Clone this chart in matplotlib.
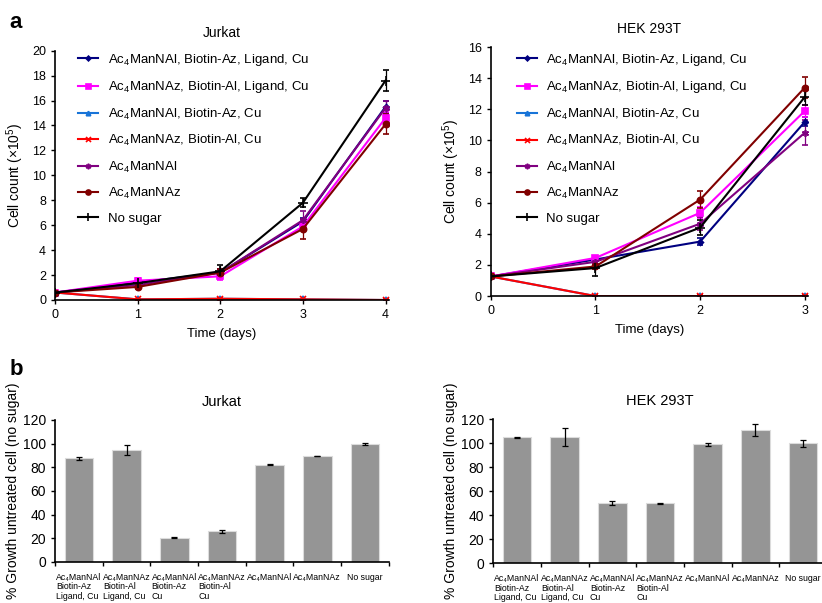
import matplotlib
matplotlib.use("Agg")
import matplotlib.pyplot as plt

plt.rcParams['font.family'] = ['Liberation Sans', 'DejaVu Sans']
plt.rcParams['mathtext.fontset'] = 'custom'
plt.rcParams['mathtext.rm'] = 'Liberation Sans'

# ---- data ----
series_labels = [
    "Ac$_4$ManNAl, Biotin-Az, Ligand, Cu",
    "Ac$_4$ManNAz, Biotin-Al, Ligand, Cu",
    "Ac$_4$ManNAl, Biotin-Az, Cu",
    "Ac$_4$ManNAz, Biotin-Al, Cu",
    "Ac$_4$ManNAl",
    "Ac$_4$ManNAz",
    "No sugar",
]
series_colors = ["#000080", "#FF00FF", "#1874D8", "#FF0000", "#800080", "#800000", "#000000"]
series_markers = ["D", "s", "^", "x", (6, 2, 0), "o", "+"]
series_msize = [3, 4.5, 4, 4.5, 5, 4.5, 7]

jurkat_days = [0, 1, 2, 3, 4]
jurkat_vals = [
    [0.6, 1.4, 2.2, 6.3, 15.5],
    [0.6, 1.55, 1.9, 5.9, 14.6],
    [0.6, 0.05, 0.1, 0.05, 0.0],
    [0.6, 0.05, 0.1, 0.05, 0.0],
    [0.6, 1.2, 2.2, 6.4, 15.4],
    [0.6, 1.05, 2.2, 5.7, 14.1],
    [0.6, 1.35, 2.3, 7.8, 17.6],
]
jurkat_err = [
    [0.05, 0.2, 0.3, 0.3, 0.5],
    [0.05, 0.2, 0.3, 0.3, 0.5],
    [0.05, 0.05, 0.05, 0.05, 0.05],
    [0.05, 0.05, 0.05, 0.05, 0.05],
    [0.05, 0.2, 0.3, 0.7, 0.6],
    [0.05, 0.2, 0.3, 0.8, 0.8],
    [0.05, 0.2, 0.5, 0.35, 0.85],
]

hek_days = [0, 1, 2, 3]
hek_vals = [
    [1.26, 2.35, 3.5, 11.2],
    [1.26, 2.45, 5.35, 11.9],
    [1.26, 0.0, 0.0, 0.0],
    [1.26, 0.0, 0.0, 0.0],
    [1.26, 2.2, 4.65, 10.5],
    [1.26, 1.9, 6.2, 13.4],
    [1.26, 1.8, 4.4, 12.8],
]
hek_err = [
    [0.05, 0.15, 0.25, 0.3],
    [0.05, 0.15, 0.35, 0.4],
    [0.05, 0.05, 0.05, 0.05],
    [0.05, 0.05, 0.05, 0.05],
    [0.05, 0.15, 0.4, 0.8],
    [0.05, 0.15, 0.55, 0.7],
    [0.05, 0.5, 0.5, 0.5],
]

bar_labels = [
    "Ac\u2084ManNAl\nBiotin-Az\nLigand, Cu",
    "Ac\u2084ManNAz\nBiotin-Al\nLigand, Cu",
    "Ac\u2084ManNAl\nBiotin-Az\nCu",
    "Ac\u2084ManNAz\nBiotin-Al\nCu",
    "Ac\u2084ManNAl",
    "Ac\u2084ManNAz",
    "No sugar",
]
jurkat_pct = [87.5, 94.5, 20.5, 25.8, 82.2, 89.5, 99.6]
jurkat_pct_err = [1.0, 4.5, 0.5, 1.0, 0.5, 0.3, 1.0]
hek_pct = [104.7, 105.3, 50.0, 49.8, 99.2, 110.8, 99.8]
hek_pct_err = [0.7, 7.5, 1.8, 0.4, 1.3, 5.0, 3.0]


def line_panel(ax, days, vals, errs, title, ymax, legend_xy):
    for i in range(len(vals)):
        ax.errorbar(days, vals[i], yerr=errs[i], color=series_colors[i],
                    marker=series_markers[i], markersize=series_msize[i],
                    markeredgewidth=1.2, linewidth=1.5, elinewidth=0.9,
                    capsize=2.5, capthick=0.9, label=series_labels[i])
    ax.set_xlim(0, days[-1] * 1.01)
    ax.set_ylim(0, ymax)
    ax.set_xticks(days)
    ax.set_yticks(range(0, ymax + 1, 2))
    ax.spines['top'].set_visible(False)
    ax.spines['right'].set_visible(False)
    ax.spines['left'].set_linewidth(1.2)
    ax.spines['bottom'].set_linewidth(1.2)
    ax.tick_params(labelsize=9, direction='out', length=3, width=1)
    ax.set_xlabel("Time (days)", fontsize=9.5, labelpad=5)
    ax.set_ylabel("Cell count (\u00d710$^5$)", fontsize=10, labelpad=4)
    ax.set_title(title, fontsize=10, pad=10)
    handles, labels = ax.get_legend_handles_labels()
    handles = [h[0] for h in handles]
    ax.legend(handles, labels, loc='upper left', bbox_to_anchor=legend_xy,
              frameon=False, fontsize=9.5, borderpad=0, borderaxespad=0,
              handlelength=1.5, handletextpad=0.75, labelspacing=0.86,
              markerscale=0.8)


def bar_panel(ax, pct, err, title):
    xs = list(range(len(pct)))
    ax.bar(xs, pct, width=0.6, color="#959595", edgecolor="#dcdcdc", linewidth=0.8)
    ax.errorbar(xs, pct, yerr=err, fmt='none', ecolor='black',
                elinewidth=0.9, capsize=2.5, capthick=0.9)
    ax.set_xlim(-0.5, len(pct) - 0.5)
    ax.set_ylim(0, 120)
    ax.set_yticks(range(0, 121, 20))
    ax.set_xticks(xs)
    ax.set_xticklabels(bar_labels, fontsize=6.3, va='top', linespacing=1.05,
                       multialignment='left')
    ax.set_xticks([x - 0.5 for x in range(len(pct) + 1)], minor=True)
    ax.tick_params(axis='x', which='major', length=0, pad=8)
    ax.tick_params(axis='x', which='minor', length=3, width=1, direction='out')
    ax.tick_params(axis='y', labelsize=10, length=3, width=1, direction='out')
    ax.spines['top'].set_visible(False)
    ax.spines['right'].set_visible(False)
    ax.spines['left'].set_linewidth(1.2)
    ax.spines['bottom'].set_linewidth(1.2)
    ax.set_ylabel("% Growth untreated cell (no sugar)", fontsize=10, labelpad=2)
    ax.set_title(title, fontsize=10.5, pad=10)


fig = plt.figure(figsize=(8.22, 6.03), dpi=100)

ax1 = fig.add_axes([0.067, 0.5025, 0.406, 0.4135])
line_panel(ax1, jurkat_days, jurkat_vals, jurkat_err, "Jurkat", 20, (0.069, 0.995))

ax2 = fig.add_axes([0.597, 0.509, 0.386, 0.413])
line_panel(ax2, hek_days, hek_vals, hek_err, "HEK 293T", 16, (0.082, 0.98))

ax3 = fig.add_axes([0.067, 0.068, 0.406, 0.2355])
bar_panel(ax3, jurkat_pct, jurkat_pct_err, "Jurkat")

ax4 = fig.add_axes([0.6, 0.066, 0.406, 0.239])
bar_panel(ax4, hek_pct, hek_pct_err, "HEK 293T")

fig.text(0.012, 0.953, "a", fontsize=16, fontweight='bold')
fig.text(0.012, 0.378, "b", fontsize=16, fontweight='bold')

fig.savefig("out.png", dpi=100)
